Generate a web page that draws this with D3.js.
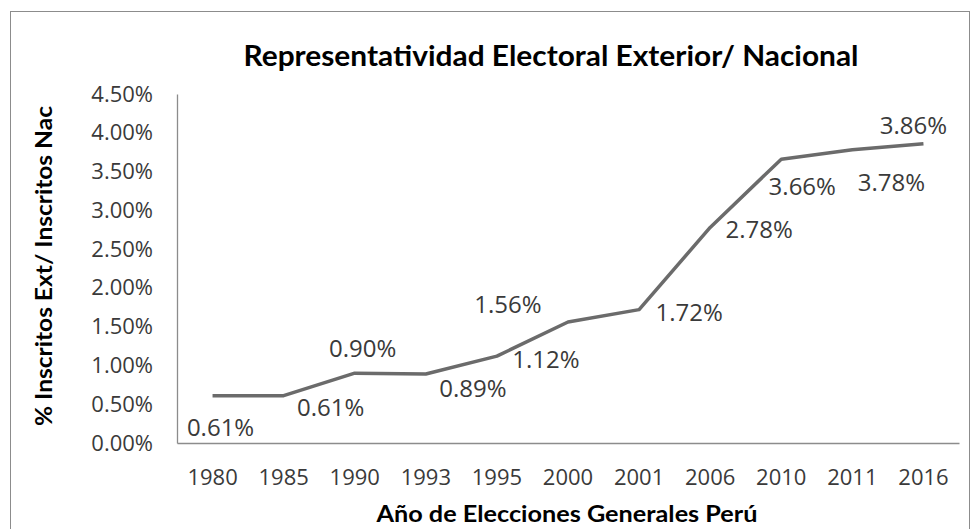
<!DOCTYPE html>
<html>
<head>
<meta charset="utf-8">
<script src="https://cdn.jsdelivr.net/npm/d3@7"></script>
<style>
  body { margin: 0; background: #fff; }
</style>
</head>
<body>
<div class="chart-wrapper"></div>
<script>
var years = ['1980','1985','1990','1993','1995','2000','2001','2006','2010','2011','2016']
var ratio = [0.61, 0.61, 0.90, 0.89, 1.12, 1.56, 1.72, 2.78, 3.66, 3.78, 3.86]
var yTicks = [0, 0.5, 1, 1.5, 2, 2.5, 3, 3.5, 4, 4.5]
// where the labels sit relative to their point (hand placed in the original)
var labelNudge = [[8,31],[47,11],[8,-26],[47,14],[49,2],[-60,-19],[50,2],[49,1],[21,26],[39,32],[-10,-19]]

var width = 974
var height = 529
var margin = {left: 177, right: 15, top: 94, bottom: 86}

var svg = d3.select('.chart-wrapper')
  .append('svg')
  .attr('width', width)
  .attr('height', height)
  .style('font-family', '"Open Sans", sans-serif')

// outer frame (bottom edge falls outside the picture)
svg.append('rect')
  .attr('x', 10.5).attr('y', 11.5)
  .attr('width', 959).attr('height', 540)
  .attr('fill', 'none')
  .attr('stroke', '#8c8c8c')

var x = d3.scaleBand().domain(years).range([margin.left, width - margin.right])
var y = d3.scaleLinear().domain([0, 4.5]).range([height - margin.bottom, margin.top])

var yAxis = svg.append('g')
  .attr('transform', `translate(${margin.left},0)`)
  .call(d3.axisLeft(y).tickValues(yTicks).tickSize(0).tickPadding(24)
    .tickFormat(d => d.toFixed(2) + '%'))
yAxis.select('.domain').attr('stroke', '#8c8c8c').attr('stroke-width', 1.3)
yAxis.selectAll('text')
  .attr('font-size', 22)
  .attr('font-family', '"Open Sans", sans-serif')
  .attr('fill', '#3a3a3a')

var xAxis = svg.append('g')
  .attr('transform', `translate(0,${height - margin.bottom})`)
  .call(d3.axisBottom(x).tickSize(0).tickPadding(26))
xAxis.select('.domain').attr('stroke', '#8c8c8c').attr('stroke-width', 1.3)
xAxis.selectAll('text')
  .attr('font-size', 22)
  .attr('font-family', '"Open Sans", sans-serif')
  .attr('fill', '#3a3a3a')

var pts = years.map((yr, i) => ({year: yr, value: ratio[i], i: i}))

var line = d3.line()
  .x(d => x(d.year) + x.bandwidth() / 2)
  .y(d => y(d.value))

svg.append('path')
  .datum(pts)
  .attr('d', line)
  .attr('fill', 'none')
  .attr('stroke', '#6b6b6b')
  .attr('stroke-width', 3.5)
  .attr('stroke-linejoin', 'round')

svg.selectAll('.lbl')
  .data(pts)
  .enter().append('text')
  .attr('class', 'lbl')
  .attr('x', d => x(d.year) + x.bandwidth() / 2 + labelNudge[d.i][0])
  .attr('y', d => y(d.value) + labelNudge[d.i][1])
  .attr('text-anchor', 'middle')
  .attr('dominant-baseline', 'central')
  .attr('font-size', 24)
  .attr('fill', '#3a3a3a')
  .text(d => d.value.toFixed(2) + '%')

svg.append('text')
  .attr('x', 551).attr('y', 66)
  .attr('text-anchor', 'middle')
  .attr('font-family', 'Lato, sans-serif')
  .attr('font-weight', 'bold')
  .attr('font-size', 29)
  .attr('textLength', 615)
  .attr('lengthAdjust', 'spacingAndGlyphs')
  .attr('fill', '#000')
  .text('Representatividad  Electoral Exterior/ Nacional')

svg.append('text')
  .attr('transform', 'translate(52,266) rotate(-90)')
  .attr('text-anchor', 'middle')
  .attr('font-family', 'Lato, sans-serif')
  .attr('font-weight', 'bold')
  .attr('font-size', 23)
  .attr('textLength', 320)
  .attr('lengthAdjust', 'spacingAndGlyphs')
  .attr('fill', '#000')
  .text('% Inscritos Ext/ Inscritos Nac')

svg.append('text')
  .attr('x', 567).attr('y', 522)
  .attr('text-anchor', 'middle')
  .attr('font-family', 'Lato, sans-serif')
  .attr('font-weight', 'bold')
  .attr('font-size', 22)
  .attr('textLength', 381)
  .attr('lengthAdjust', 'spacingAndGlyphs')
  .attr('fill', '#000')
  .text('Año de Elecciones Generales Perú')
</script>
</body>
</html>
